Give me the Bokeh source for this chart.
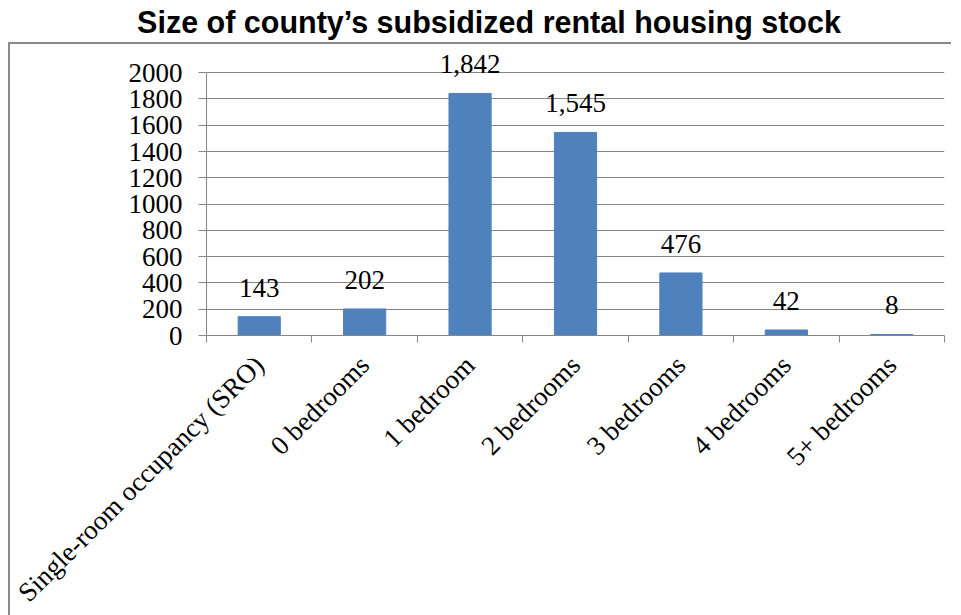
from math import pi
from bokeh.plotting import figure
from bokeh.models import (FactorRange, Range1d, LinearAxis, CategoricalAxis, FixedTicker,
                          ColumnDataSource, LabelSet, Div)
from bokeh.layouts import column
from bokeh.core.properties import value
from bokeh.embed import file_html
from bokeh.resources import INLINE

# ---- data ----
title_text = "Size of county\u2019s subsidized rental housing stock"
categories = ["Single-room occupancy (SRO)", "0 bedrooms", "1 bedroom", "2 bedrooms",
              "3 bedrooms", "4 bedrooms", "5+ bedrooms"]
units = [143, 202, 1842, 1545, 476, 42, 8]
y_ticks = [0, 200, 400, 600, 800, 1000, 1200, 1400, 1600, 1800, 2000]

# ---- styles ----
SERIF = "Liberation Serif"
SANS = "Liberation Sans"
GRAY = "#868686"
BAR = "#4F81BD"
FS = "27px"

PX_PER_UNIT = 261 / 2000
FRAME_H = 283
FRAME_W = 736
y_top = FRAME_H / PX_PER_UNIT

src = ColumnDataSource(dict(x=categories, top=units, label=[f"{v:,}" for v in units]))

# ---- title (outside the bordered chart box) ----
title = Div(
    text=(f'<div style="font-family:\'{SANS}\';font-weight:bold;font-size:30.5px;'
          f'color:#000;text-align:center;line-height:44px;white-space:nowrap;'
          f'width:944px;">{title_text}</div>'),
    width=961, height=42, styles={"margin": "0", "padding-left": "17px"})

# ---- main figure ----
p = figure(x_range=FactorRange(factors=categories), y_range=Range1d(0, y_top),
           frame_width=FRAME_W, frame_height=FRAME_H,
           min_border_left=196, min_border_right=9, min_border_top=6, min_border_bottom=276,
           x_axis_location=None, toolbar_location=None, output_backend="svg")
p.outline_line_color = None
p.xgrid.visible = False
p.styles = {"margin-left": "8px", "border-left": "2px solid #8a8a8a",
            "border-top": "2px solid #8a8a8a"}

p.vbar(x="x", top="top", width=0.4, source=src, fill_color=BAR, line_color=BAR)

p.add_layout(LabelSet(x="x", y="top", text="label", source=src, text_align="center",
                      text_baseline="middle", y_offset=29, text_font=value(SERIF),
                      text_font_size=FS, text_color="black"))

# y axis
ya = p.yaxis[0]
ya.ticker = FixedTicker(ticks=y_ticks)
ya.bounds = (0, 2000)
ya.axis_line_color = GRAY
ya.major_tick_line_color = GRAY
ya.major_tick_in = 0
ya.major_tick_out = 8
ya.minor_tick_line_color = None
ya.major_label_text_font = SERIF
ya.major_label_text_font_size = FS
ya.major_label_text_color = "black"
ya.major_label_standoff = 16
p.ygrid.ticker = FixedTicker(ticks=y_ticks)
p.ygrid.grid_line_color = GRAY

# x axis: tick marks at the boundaries between categories (synthetic coordinates)
edge_axis = LinearAxis(ticker=FixedTicker(ticks=list(range(len(categories) + 1))),
                       major_label_text_font_size="0px", major_label_text_color=None,
                       major_label_standoff=0,
                       major_tick_in=0, major_tick_out=7, minor_tick_line_color=None,
                       axis_line_color=GRAY, major_tick_line_color=GRAY)
p.add_layout(edge_axis, "below")

cat_axis = CategoricalAxis(major_label_orientation=pi / 4, axis_line_color=None,
                           major_tick_line_color=None, major_label_text_font=SERIF,
                           major_label_text_font_size=FS, major_label_text_color="black",
                           major_label_standoff=12)
p.add_layout(cat_axis, "below")

layout = column(title, p)
open("out.html", "w").write(file_html(layout, INLINE))
